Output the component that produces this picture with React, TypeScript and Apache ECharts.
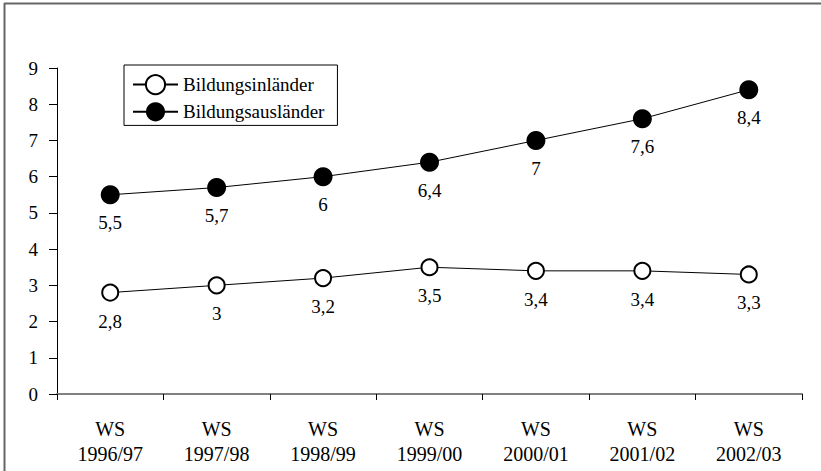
import React, { useEffect, useRef } from "react";
import * as echarts from "echarts";

const categories = ["WS\n1996/97", "WS\n1997/98", "WS\n1998/99", "WS\n1999/00", "WS\n2000/01", "WS\n2001/02", "WS\n2002/03"];
const seriesNames = ["Bildungsinländer", "Bildungsausländer"];
const inlaender = [2.8, 3.0, 3.2, 3.5, 3.4, 3.4, 3.3];
const auslaender = [5.5, 5.7, 6.0, 6.4, 7.0, 7.6, 8.4];
const yTicks = { min: 0, max: 9, interval: 1 };

const FONT = "'Liberation Serif', 'Times New Roman', serif";

export default function App() {
  const ref = useRef<HTMLDivElement>(null);
  useEffect(() => {
    if (!ref.current) return;
    const chart = echarts.init(ref.current, undefined, { renderer: "svg" });
    const fmt = (p: any) => String(p.value).replace(".", ",");
    chart.setOption({
      animation: false,
      backgroundColor: "#fff",
      textStyle: { fontFamily: FONT, color: "#000" },
      grid: { left: 57, right: 19, top: 68, bottom: 77, containLabel: false },
      legend: {
        left: 124,
        top: 65,
        orient: "vertical",
        data: seriesNames,
        itemWidth: 45,
        itemHeight: 24,
        itemGap: 7,
        padding: [9, 13, 4, 8],
        borderColor: "#000",
        borderWidth: 1,
        backgroundColor: "#fff",
        textStyle: { fontFamily: FONT, fontSize: 19, color: "#000" },
      },
      xAxis: {
        type: "category",
        data: categories,
        boundaryGap: true,
        axisLine: { lineStyle: { color: "#808080", width: 2 } },
        axisTick: { show: true, length: 6, lineStyle: { color: "#000" } },
        axisLabel: { fontFamily: FONT, fontSize: 20, color: "#000", margin: 22, lineHeight: 25, interval: 0 },
      },
      yAxis: {
        type: "value",
        min: yTicks.min,
        max: yTicks.max,
        interval: yTicks.interval,
        axisLine: { show: true, lineStyle: { color: "#000", width: 1 } },
        axisTick: { show: true, length: 8, lineStyle: { color: "#000" } },
        splitLine: { show: false },
        axisLabel: { fontFamily: FONT, fontSize: 19, color: "#000", margin: 19 },
      },
      graphic: [
        { type: "line", shape: { x1: 4.5, y1: 3, x2: 4.5, y2: 471 }, style: { stroke: "#666", lineWidth: 2 } },
        { type: "line", shape: { x1: 4, y1: 3.5, x2: 821, y2: 3.5 }, style: { stroke: "#666", lineWidth: 2 } },
      ],
      series: [
        {
          name: seriesNames[0],
          type: "line",
          data: inlaender,
          symbol: "circle",
          symbolSize: 16,
          showAllSymbol: true,
          lineStyle: { color: "#000", width: 1 },
          itemStyle: { color: "#fff", borderColor: "#000", borderWidth: 2 },
          label: { show: true, position: "bottom", distance: 10, formatter: fmt, fontFamily: FONT, fontSize: 19, color: "#000" },
          emphasis: { disabled: true },
          z: 3,
        },
        {
          name: seriesNames[1],
          type: "line",
          data: auslaender,
          symbol: "circle",
          symbolSize: 19,
          showAllSymbol: true,
          lineStyle: { color: "#000", width: 1 },
          itemStyle: { color: "#000", borderColor: "#000", borderWidth: 0 },
          label: { show: true, position: "bottom", distance: 9, formatter: fmt, fontFamily: FONT, fontSize: 19, color: "#000" },
          emphasis: { disabled: true },
          z: 3,
        },
      ],
    });
    return () => chart.dispose();
  }, []);
  return <div ref={ref} style={{ position: "fixed", left: 0, top: 0, width: 821, height: 471 }} />;
}
